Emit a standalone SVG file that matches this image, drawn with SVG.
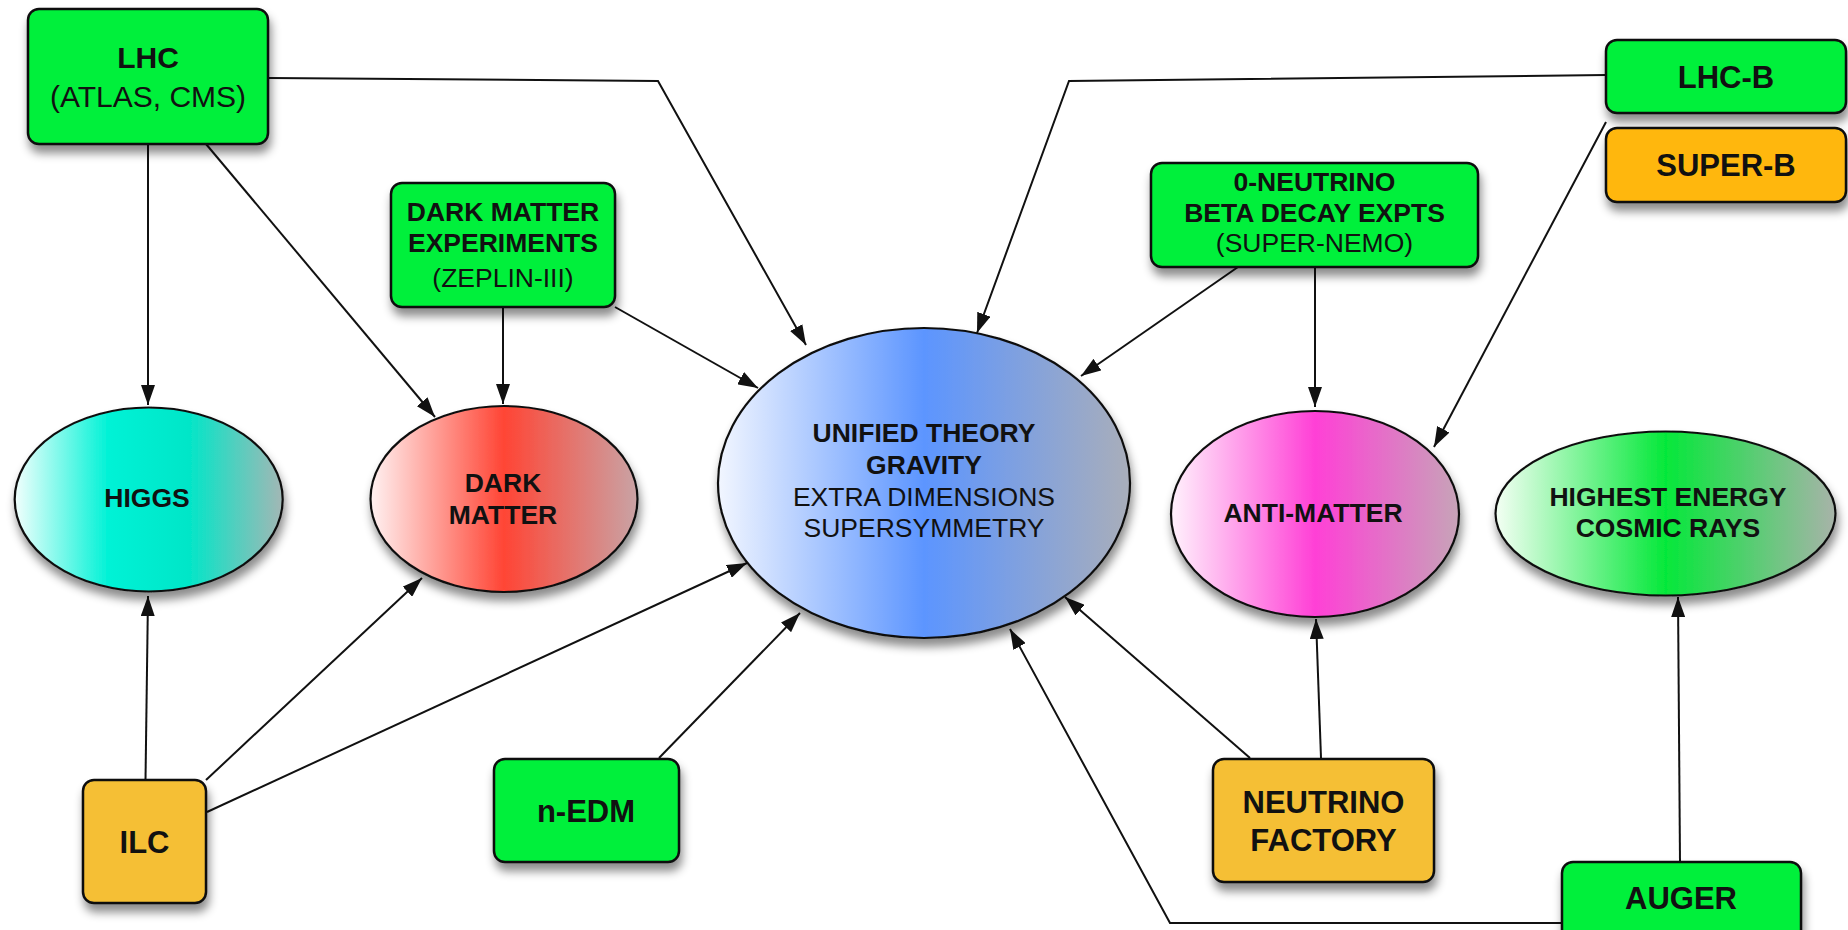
<svg xmlns="http://www.w3.org/2000/svg" width="1848" height="930" viewBox="0 0 1848 930">
<style>
  .box { stroke: #111; stroke-width: 2.5; }
  .green { fill: #03F03A; }
  .orange { fill: #FFB70E; }
  .gold { fill: #F5BF34; }
  .ell { stroke: #111; stroke-width: 2.2; }
  .edge { fill: none; stroke: #111; stroke-width: 2; marker-end: url(#arrow); }
  text { font-family: "Liberation Sans", Arial, Helvetica, sans-serif; fill: #111; text-anchor: middle; }
  .b30 { font-size: 30px; font-weight: bold; }
  .r30 { font-size: 30px; }
  .b31 { font-size: 31px; font-weight: bold; }
  .b26 { font-size: 26.5px; font-weight: bold; }
  .r26 { font-size: 26.5px; }
</style>
<defs>
  <marker id="arrow" viewBox="0 0 20 14" refX="20" refY="7" markerWidth="20" markerHeight="14" markerUnits="userSpaceOnUse" orient="auto">
    <path d="M0,0 L20,7 L0,14 z" fill="#111"/>
  </marker>
  <filter id="shadow" x="-20%" y="-20%" width="140%" height="150%">
    <feDropShadow dx="2" dy="8" stdDeviation="5" flood-color="#000" flood-opacity="0.45"/>
  </filter>
  <linearGradient id="gHiggs" x1="0" y1="0" x2="1" y2="0">
    <stop offset="0" stop-color="#F2FFFD"/>
    <stop offset="0.35" stop-color="#00F2D6"/>
    <stop offset="0.65" stop-color="#02E6C8"/>
    <stop offset="1" stop-color="#A3B7B5"/>
  </linearGradient>
  <linearGradient id="gDM" x1="0" y1="0" x2="1" y2="0">
    <stop offset="0" stop-color="#FFF2F2"/>
    <stop offset="0.5" stop-color="#FF4535"/>
    <stop offset="1" stop-color="#C9A3A5"/>
  </linearGradient>
  <linearGradient id="gUni" x1="0" y1="0" x2="1" y2="0">
    <stop offset="0" stop-color="#F2F6FF"/>
    <stop offset="0.5" stop-color="#5C95FF"/>
    <stop offset="1" stop-color="#A9AEBA"/>
  </linearGradient>
  <linearGradient id="gAnti" x1="0" y1="0" x2="1" y2="0">
    <stop offset="0" stop-color="#FFF2FC"/>
    <stop offset="0.5" stop-color="#FF40D6"/>
    <stop offset="1" stop-color="#C7A4B8"/>
  </linearGradient>
  <linearGradient id="gHigh" x1="0" y1="0" x2="1" y2="0">
    <stop offset="0" stop-color="#F4FFF4"/>
    <stop offset="0.5" stop-color="#05E83A"/>
    <stop offset="1" stop-color="#A8B3A9"/>
  </linearGradient>
</defs>
<rect width="1848" height="930" fill="#fff"/>

<g id="connectors">
  <path class="edge" d="M148,144 L148,405"/>
  <path class="edge" d="M206,144 L435,417"/>
  <path class="edge" d="M269,78 L658,81 L806,345"/>
  <path class="edge" d="M503,307 L503,404"/>
  <path class="edge" d="M615,307 L758,388"/>
  <path class="edge" d="M1238,267 L1081,376"/>
  <path class="edge" d="M1315,267 L1315,407"/>
  <path class="edge" d="M1606,75 L1069,81 L977,333"/>
  <path class="edge" d="M1606,122 L1434,447"/>
  <path class="edge" d="M145.5,780 L148,596"/>
  <path class="edge" d="M206,780 L422,578"/>
  <path class="edge" d="M207,812 L747,563"/>
  <path class="edge" d="M659,758 L800,613"/>
  <path class="edge" d="M1250,758 L1065,597"/>
  <path class="edge" d="M1321,758 L1316,619"/>
  <path class="edge" d="M1562,923 L1170,923 L1010,629"/>
  <path class="edge" d="M1680,862 L1678,597"/>
</g>

<g id="lhc">
  <rect class="box green" x="28" y="9" width="240" height="135" rx="11" filter="url(#shadow)"/>
  <text class="b30" x="148" y="68">LHC</text>
  <text class="r30" x="148" y="107">(ATLAS, CMS)</text>
</g>
<g id="dark-matter-experiments">
  <rect class="box green" x="391" y="183" width="224" height="124" rx="11" filter="url(#shadow)"/>
  <text class="b26" x="503" y="221">DARK MATTER</text>
  <text class="b26" x="503" y="252">EXPERIMENTS</text>
  <text class="r26" x="503" y="287">(ZEPLIN-III)</text>
</g>
<g id="zero-neutrino">
  <rect class="box green" x="1151" y="163" width="327" height="104" rx="11" filter="url(#shadow)"/>
  <text class="b26" x="1314.5" y="191">0-NEUTRINO</text>
  <text class="b26" x="1314.5" y="222">BETA DECAY EXPTS</text>
  <text class="r26" x="1314.5" y="252">(SUPER-NEMO)</text>
</g>
<g id="lhc-b">
  <rect class="box green" x="1606" y="40" width="240" height="73" rx="11" filter="url(#shadow)"/>
  <text class="b31" x="1726" y="88">LHC-B</text>
</g>
<g id="super-b">
  <rect class="box orange" x="1606" y="128" width="240" height="74" rx="11" filter="url(#shadow)"/>
  <text class="b31" x="1726" y="176">SUPER-B</text>
</g>

<g id="higgs">
  <ellipse class="ell" cx="148.7" cy="499.5" rx="134" ry="92" fill="url(#gHiggs)" filter="url(#shadow)"/>
  <text class="b26" x="147" y="507">HIGGS</text>
</g>
<g id="dark-matter">
  <ellipse class="ell" cx="504" cy="499" rx="133.5" ry="93" fill="url(#gDM)" filter="url(#shadow)"/>
  <text class="b26" x="503" y="492">DARK</text>
  <text class="b26" x="503" y="524">MATTER</text>
</g>
<g id="unified-theory">
  <ellipse class="ell" cx="924" cy="483" rx="206" ry="155" fill="url(#gUni)" filter="url(#shadow)"/>
  <text class="b26" x="924" y="442">UNIFIED THEORY</text>
  <text class="b26" x="924" y="474">GRAVITY</text>
  <text class="r26" x="924" y="506">EXTRA DIMENSIONS</text>
  <text class="r26" x="924" y="537">SUPERSYMMETRY</text>
</g>
<g id="anti-matter">
  <ellipse class="ell" cx="1315" cy="514" rx="144" ry="103" fill="url(#gAnti)" filter="url(#shadow)"/>
  <text class="b26" x="1313" y="522">ANTI-MATTER</text>
</g>
<g id="cosmic-rays">
  <ellipse class="ell" cx="1665.5" cy="513.5" rx="170" ry="82" fill="url(#gHigh)" filter="url(#shadow)"/>
  <text class="b26" x="1668" y="506">HIGHEST ENERGY</text>
  <text class="b26" x="1668" y="537">COSMIC RAYS</text>
</g>

<g id="ilc">
  <rect class="box gold" x="83" y="780" width="123" height="123" rx="11" filter="url(#shadow)"/>
  <text class="b31" x="144.5" y="853">ILC</text>
</g>
<g id="n-edm">
  <rect class="box green" x="494" y="759" width="185" height="103" rx="11" filter="url(#shadow)"/>
  <text class="b31" x="586" y="822">n-EDM</text>
</g>
<g id="neutrino-factory">
  <rect class="box gold" x="1213" y="759" width="221" height="123" rx="11" filter="url(#shadow)"/>
  <text class="b31" x="1323.5" y="813">NEUTRINO</text>
  <text class="b31" x="1323.5" y="851">FACTORY</text>
</g>
<g id="auger">
  <rect class="box green" x="1562" y="862" width="239" height="85" rx="11" filter="url(#shadow)"/>
  <text class="b31" x="1681" y="909">AUGER</text>
</g>
</svg>
